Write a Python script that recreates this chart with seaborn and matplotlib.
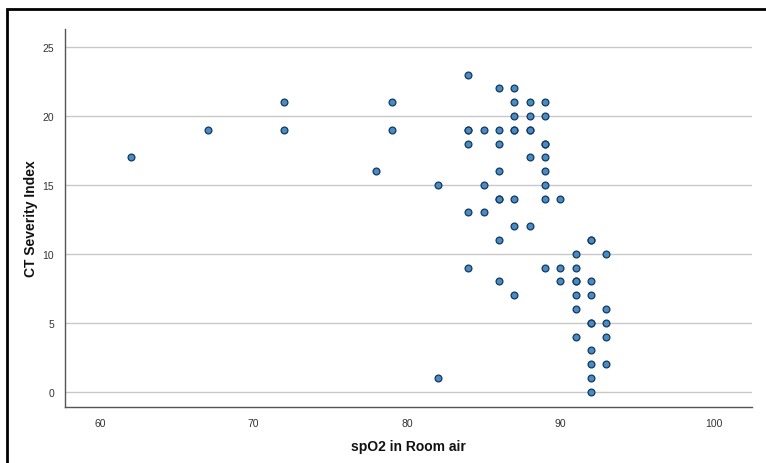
import matplotlib
matplotlib.use("Agg")
import matplotlib.pyplot as plt
import seaborn as sns
import pandas as pd
from matplotlib.patches import Rectangle

spo2 = [62, 67, 72, 72, 78, 79, 79,
        82, 82,
        84, 84, 84, 84, 84, 84,
        85, 85, 85,
        86, 86, 86, 86, 86, 86, 86, 86,
        87, 87, 87, 87, 87, 87, 87, 87,
        88, 88, 88, 88, 88, 88,
        89, 89, 89, 89, 89, 89, 89, 89, 89,
        90, 90, 90,
        91, 91, 91, 91, 91, 91, 91,
        92, 92, 92, 92, 92, 92, 92, 92, 92, 92,
        93, 93, 93, 93, 93]
ct_index = [17, 19, 21, 19, 16, 21, 19,
            15, 1,
            23, 19, 18, 13, 9, 19,
            19, 15, 13,
            22, 19, 18, 16, 14, 11, 8, 14,
            22, 21, 20, 19, 14, 12, 7, 19,
            21, 20, 19, 17, 12, 19,
            21, 20, 18, 17, 16, 15, 14, 9, 18,
            14, 9, 8,
            10, 9, 8, 7, 6, 4, 8,
            11, 8, 7, 5, 3, 2, 1, 0, 11, 5,
            10, 6, 5, 4, 2]

df = pd.DataFrame({"spO2 in Room air": spo2, "CT Severity Index": ct_index})

sns.set_theme(style="white")
plt.rcParams["font.family"] = ["Liberation Sans", "DejaVu Sans"]

fig = plt.figure(figsize=(7.66, 4.64), dpi=100)
ax = fig.add_axes([0.0849, 0.1207, 0.9817 - 0.0849, 0.9353 - 0.1207])

ax.yaxis.grid(True, color="#c8c8c8", linewidth=1.0)
ax.set_axisbelow(True)

sns.scatterplot(data=df, x="spO2 in Room air", y="CT Severity Index", ax=ax,
                color="#3d8fd4", edgecolor="#1c3550", linewidth=0.9, s=24, zorder=3)

ax.set_xlim(57.7, 102.5)
ax.set_ylim(-1.1, 26.3)
ax.set_xticks([60, 70, 80, 90, 100])
ax.set_yticks([0, 5, 10, 15, 20, 25])
ax.tick_params(axis="both", labelsize=7.5, colors="#333333", length=0, pad=8)
for lab in ax.get_xticklabels() + ax.get_yticklabels():
    lab.set_color("#333333")

for side in ["top", "right"]:
    ax.spines[side].set_visible(False)
for side in ["left", "bottom"]:
    ax.spines[side].set_color("#555555")
    ax.spines[side].set_linewidth(1.0)

ax.set_xlabel("spO2 in Room air", fontsize=10, fontweight="bold", color="#111111", labelpad=8)
ax.set_ylabel("CT Severity Index", fontsize=10, fontweight="bold", color="#111111", labelpad=3)

# outer frame (top and left edges visible)
fig.patches.append(Rectangle((7 / 766, -0.1), 1.2, (464 - 10) / 464 + 0.1,
                             transform=fig.transFigure, fill=False,
                             edgecolor="black", linewidth=2.0, zorder=10))

fig.savefig("out.png", dpi=100)
